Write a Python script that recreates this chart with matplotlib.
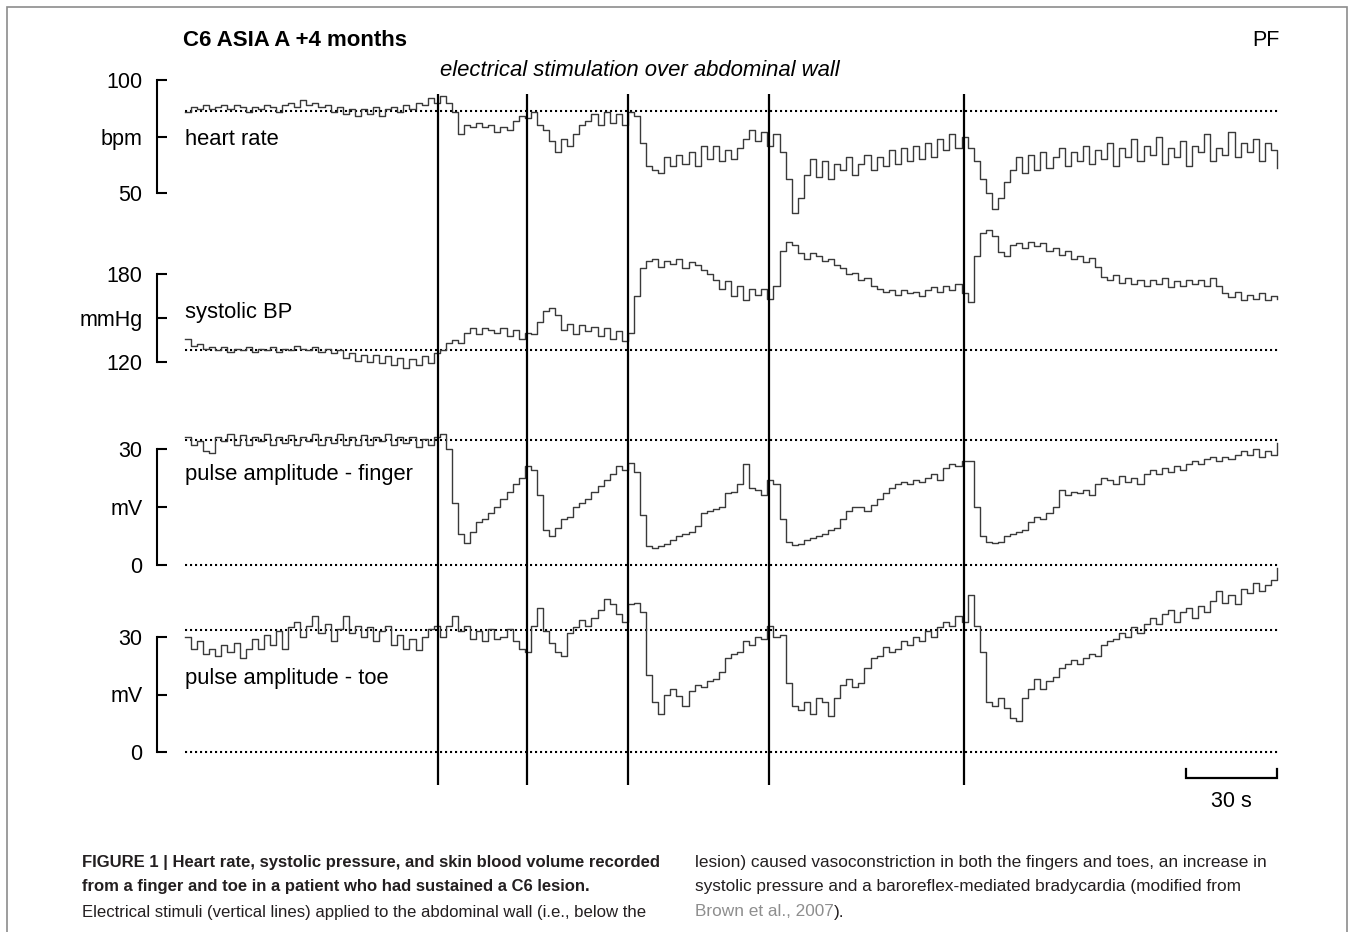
import numpy as np
import matplotlib
matplotlib.use("Agg")
import matplotlib.pyplot as plt
import matplotlib.transforms as mtransforms
from matplotlib.patches import Rectangle

# samples every 2 s
STEP = 2.0
stim_times = [83.4, 112.8, 146.1, 192.5, 256.8]

heart_rate = [
    86, 88, 87, 89, 87, 88, 89, 87, 89, 88, 86, 88, 87, 89, 88, 86, 89, 90, 88, 91,
    89, 90, 88, 89, 86, 88, 85, 87, 84, 87, 85, 88, 84, 87, 88, 86, 89, 87, 90, 89,
    92, 90, 93, 90, 86, 76, 80, 79, 81, 79, 80, 77, 79, 78, 82, 84, 83, 86, 80, 78,
    73, 68, 74, 71, 76, 80, 82, 85, 80, 86, 81, 85, 80, 86, 84, 72, 62, 60, 59, 66,
    62, 67, 63, 68, 62, 71, 65, 71, 64, 69, 65, 70, 74, 78, 73, 77, 71, 76, 68, 56,
    41, 48, 58, 65, 57, 64, 56, 63, 60, 66, 58, 63, 67, 60, 66, 62, 69, 63, 70, 64,
    71, 65, 72, 66, 74, 69, 76, 70, 75, 70, 64, 56, 50, 43, 48, 55, 60, 66, 59, 67,
    60, 68, 61, 66, 70, 62, 68, 64, 71, 63, 69, 65, 72, 62, 70, 66, 74, 64, 71, 67,
    75, 63, 70, 66, 73, 62, 71, 68, 76, 64, 70, 67, 77, 66, 72, 68, 74, 64, 72, 69,
    61,
]

systolic_bp = [
    136, 131, 132, 129, 130, 128, 130, 127, 129, 128, 130, 127, 129, 128, 130, 127, 129, 128, 131, 129,
    128, 130, 127, 129, 126, 128, 123, 126, 121, 125, 120, 125, 119, 124, 118, 123, 116, 122, 118, 124,
    119, 126, 128, 133, 135, 133, 140, 143, 139, 143, 142, 140, 143, 138, 142, 136, 140, 139, 147, 155,
    157, 152, 142, 146, 139, 145, 141, 144, 138, 143, 136, 141, 134, 140, 165, 184, 189, 190, 185, 189,
    187, 190, 184, 188, 186, 183, 180, 176, 170, 175, 165, 172, 162, 170, 166, 170, 163, 172, 196, 202,
    200, 194, 190, 194, 192, 189, 190, 186, 184, 180, 181, 176, 177, 172, 170, 168, 169, 166, 169, 167,
    168, 165, 169, 171, 168, 172, 169, 173, 167, 161, 192, 208, 210, 206, 195, 192, 200, 201, 198, 202,
    199, 201, 196, 198, 193, 196, 190, 192, 188, 191, 185, 178, 176, 179, 174, 177, 173, 176, 172, 176,
    173, 177, 171, 175, 172, 176, 173, 176, 172, 177, 172, 167, 164, 168, 162, 166, 163, 167, 162, 165,
    163,
]

finger = [
    33, 31, 32, 29.5, 29, 33, 32, 34, 31, 33.5, 31, 33, 32, 34, 31, 33, 31.5, 33.5, 31, 33,
    32, 34, 31, 33, 31.5, 34, 31, 33, 31, 33.5, 31, 33, 32, 34, 31, 33, 31.5, 33, 30.5, 32.5,
    31, 33, 34, 30, 16, 8, 5.7, 8.5, 11, 12, 13.5, 15, 17, 19, 21, 22.5, 25.5, 24.5, 18, 9,
    7.5, 9.5, 12, 12.5, 15, 16, 17, 19, 20.5, 22, 23.5, 25.5, 24.5, 26.5, 24, 13, 5, 4.5, 4.8, 5.5,
    6.5, 7.5, 8, 8.5, 10, 13.5, 14, 14.5, 15, 18.5, 19, 21, 26, 20, 19.5, 18, 22, 21, 12, 6,
    5.2, 5.5, 6.5, 7, 7.5, 8, 9, 9.5, 12, 14, 15, 15, 14, 15.5, 17, 18.5, 20, 21, 21.5, 21,
    22, 21.5, 22.5, 23.5, 22, 25, 26, 25.5, 27, 27, 15, 7.5, 6, 5.7, 6, 7.5, 8, 8.5, 9, 11,
    12.5, 12, 13.5, 15, 19.5, 18, 19, 18.5, 19.5, 18, 21, 22.5, 22, 21, 23, 21.5, 22.5, 21, 23.5, 24.5,
    23.5, 25, 24, 25.5, 24.5, 26, 27, 26, 27.5, 28, 27, 28, 27.5, 28.5, 29.5, 28.5, 30, 28, 29.5, 28.5,
    31.5,
]

toe = [
    30, 27, 29, 25.5, 27, 25, 28, 26, 28.5, 24.5, 27, 29.5, 27, 30.5, 28, 31.5, 27, 32.5, 34, 30,
    33, 35.5, 31, 33.5, 29, 32, 35.5, 31, 33, 30, 32.5, 29, 31.5, 33, 28, 30.5, 27, 29.5, 26.5, 30,
    32, 33, 30, 33, 35.5, 31.5, 33, 29.5, 31.5, 29, 32, 29.5, 30, 32, 29, 27, 26, 33, 37.5, 31.5,
    28.5, 26, 25, 31, 32.5, 34.5, 33, 35, 37, 40, 38.5, 36, 34, 38.5, 39, 36.5, 20, 13, 10, 15,
    16.5, 14.5, 12, 16, 17.5, 17, 18.5, 19, 21, 24.5, 25.5, 26, 29, 28, 30, 29.5, 33, 30, 30.5, 18,
    12, 11, 13, 10, 14, 13, 9.5, 14, 17.5, 19, 17, 18, 22, 24.5, 25, 27.5, 26, 27, 29, 28,
    30, 29, 31.5, 30, 32.5, 34, 33, 35.5, 34, 41, 33, 26, 13, 12, 14, 11.5, 9, 8, 14, 16.5,
    19, 16.5, 18.5, 19.5, 22, 23, 24, 23, 24.5, 25.5, 25, 28, 29, 29.5, 31, 30, 32.5, 31, 33.5, 35,
    33.5, 36, 37, 34, 36.5, 37.5, 35, 38, 36.5, 39.5, 42, 39, 41, 38.5, 42.5, 41.5, 44, 42, 43.5, 45,
    48,
]

W, H = 1354, 932
X0, X1 = 185, 1280          # pixel span of the traces
T_END = 361.0
plt.rcParams["font.family"] = ["Liberation Sans", "DejaVu Sans"]


def px_rect(y_top, y_bot):
    return [X0 / W, 1 - y_bot / H, (X1 - X0) / W, (y_bot - y_top) / H]


def panel(fig, y_top, y_bot, v_top, v_bot, ticks, ticklabels, refs, label, label_v, data):
    ax = fig.add_axes(px_rect(y_top, y_bot))
    ax.set_xlim(0, T_END)
    ax.set_ylim(v_bot, v_top)
    for side in ["top", "right", "bottom"]:
        ax.spines[side].set_visible(False)
    ax.spines["left"].set_position(("outward", 20))
    ax.spines["left"].set_linewidth(1.5)
    ax.set_xticks([])
    ax.set_yticks(ticks, ticklabels)
    ax.tick_params(axis="y", direction="in", length=7.5, width=1.5, pad=10.5, labelsize=15.5)
    ax.patch.set_visible(False)
    for r in refs:
        ax.axhline(r, color="black", lw=1.5, ls=(0, (1, 1.4)), clip_on=False)
    t = np.arange(len(data)) * STEP
    ax.plot(t, data, drawstyle="steps-post", color="#3a3a3a", lw=1.0, clip_on=False)
    ax.text(0, label_v, label, fontsize=15.8, va="center", ha="left")
    return ax


fig = plt.figure(figsize=(W / 100, H / 100), dpi=100)

ax_hr = panel(fig, 80, 193, 100, 50, [50, 75, 100], ["50", "bpm", "100"],
              [86.3], "heart rate", 73.5, heart_rate)
ax_bp = panel(fig, 274, 362, 180, 120, [120, 150, 180], ["120", "mmHg", "180"],
              [128], "systolic BP", 153.5, systolic_bp)
ax_fi = panel(fig, 449, 565, 30, 0, [0, 15, 30], ["0", "mV", "30"],
              [32.3, 0], "pulse amplitude - finger", 23.5, finger)
ax_to = panel(fig, 637, 752, 30, 0, [0, 15, 30], ["0", "mV", "30"],
              [31.8, 0], "pulse amplitude - toe", 19.3, toe)

# stimulus markers across all four traces
ax_st = fig.add_axes(px_rect(94, 785))
ax_st.set_xlim(0, T_END)
ax_st.set_ylim(0, 1)
ax_st.axis("off")
ax_st.vlines(stim_times, 0, 1, color="black", lw=1.6)

# 30 s scale bar under the toe trace
trans = mtransforms.blended_transform_factory(ax_to.transData, ax_to.transAxes)
bar_end = 360.0
bar_len = 30.0
ax_to.plot([bar_end - bar_len, bar_end - bar_len, bar_end, bar_end],
           [-0.15, -0.225, -0.225, -0.15], color="black", lw=1.6,
           transform=trans, clip_on=False, solid_joinstyle="miter")
ax_to.text(bar_end - bar_len / 2, -0.43, "30 s", transform=trans,
           ha="center", va="center", fontsize=15.5)

# headings
fig.text(183 / W, 1 - 41 / H, "C6 ASIA A +4 months", fontsize=16, fontweight="bold",
         ha="left", va="center")
fig.text(1280 / W, 1 - 41 / H, "PF", fontsize=15.5, ha="right", va="center")
fig.text(640 / W, 1 - 71 / H, "electrical stimulation over abdominal wall", fontsize=15.9,
         style="italic", ha="center", va="center")

# frame around figure + caption
fig.patches.append(Rectangle((7 / W, -0.05), 1340 / W, 1.05 - 7 / H, transform=fig.transFigure,
                             fill=False, edgecolor="#8c8c8c", lw=1.2))

# caption
cap_col = "#231f20"
left_lines = [
    ("FIGURE 1 | Heart rate, systolic pressure, and skin blood volume recorded", "bold", 12.0),
    ("from a finger and toe in a patient who had sustained a C6 lesion.", "bold", 12.0),
    ("Electrical stimuli (vertical lines) applied to the abdominal wall (i.e., below the", "normal", 12.1),
]
right_lines = [
    "lesion) caused vasoconstriction in both the fingers and toes, an increase in",
    "systolic pressure and a baroreflex-mediated bradycardia (modified from",
]
line_y = [862, 887, 912]
for (txt, wt, size), y in zip(left_lines, line_y):
    fig.text(82 / W, 1 - y / H, txt, fontsize=size, fontweight=wt,
             color=cap_col, ha="left", va="center")
for txt, y in zip(right_lines, line_y):
    fig.text(695 / W, 1 - y / H, txt, fontsize=12.4,
             color=cap_col, ha="left", va="center")
ref = fig.text(695 / W, 1 - line_y[2] / H, "Brown et al., 2007", fontsize=12.4,
               color="#8e8e8e", ha="left", va="center")
ax_st.annotate(").", xy=(1, 0.5), xycoords=ref, ha="left", va="center",
               fontsize=12.4, color=cap_col, annotation_clip=False)

fig.savefig("out.png", dpi=100)
